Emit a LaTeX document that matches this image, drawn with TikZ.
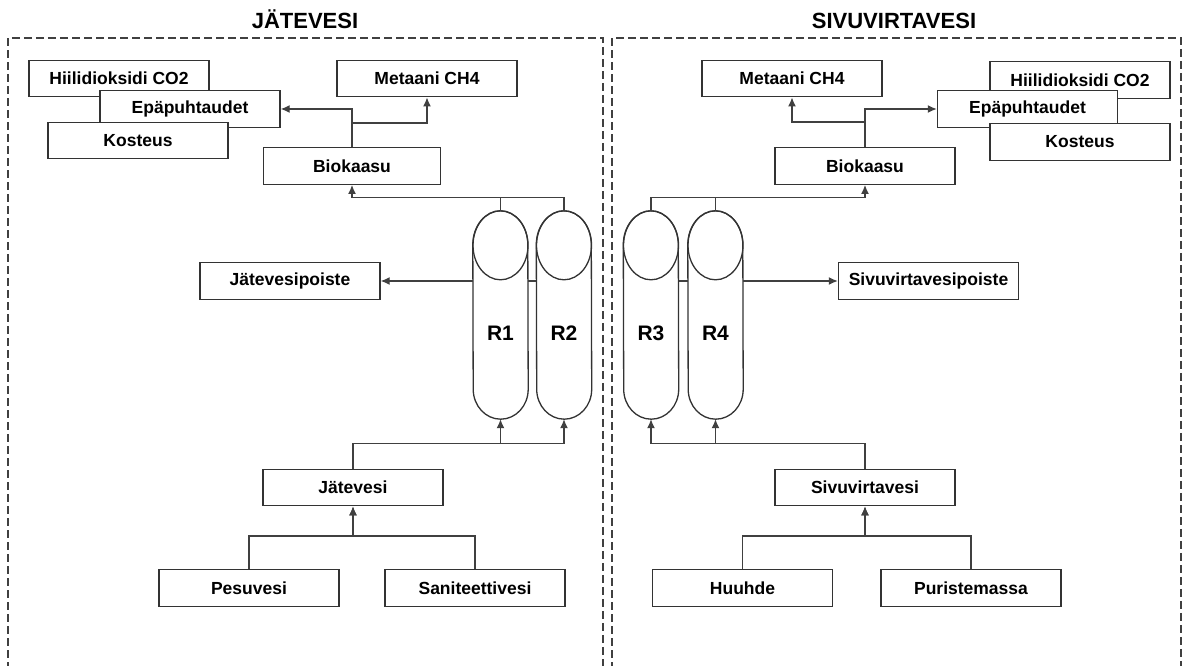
\documentclass[tikz,border=0pt]{standalone}
\usepackage{fontspec}
\setmainfont{Liberation Sans}
\usetikzlibrary{arrows.meta}
\definecolor{edge}{HTML}{333333}
\definecolor{wire}{HTML}{404040}
\begin{document}
\begin{tikzpicture}[x=1pt, y=1pt,
        >={Latex[length=9pt, width=8pt]},
        box/.style={draw=edge, line width=1.4pt, fill=white, minimum width=180pt, minimum height=36.5pt, inner sep=0pt, font=\fontsize{17.5}{20}\selectfont\bfseries},
        heading/.style={anchor=base, font=\fontsize{22}{26}\selectfont\bfseries},
        reactor/.style={minimum width=55pt, minimum height=208pt, inner sep=0pt},
        rtext/.style={font=\fontsize{21}{24}\selectfont\bfseries},
        link/.style={draw=wire, line width=1.3pt},
        frame/.style={draw=wire, line width=1.8pt, dash pattern=on 8pt off 4pt}]
        \useasboundingbox (0, 0) rectangle (1184, 666);

        \draw[frame] (8, -4) -- (8, 628) -- (603, 628) -- (603, -4);
        \draw[frame] (612, -4) -- (612, 628) -- (1181, 628) -- (1181, -4);
        \node[heading] (hJ) at (305, 637) {JÄTEVESI};
        \node[heading] (hS) at (894, 637) {SIVUVIRTAVESI};

        \node[box] (hiiliL) at (119, 587.5) {Hiilidioksidi CO2};
        \node[box] (epaL) at (190, 557) {Epäpuhtaudet};
        \node[box] (kostL) at (138, 525.5) {Kosteus};
        \node[box] (metL) at (427, 587.5) {Metaani CH4};
        \node[box, minimum width=177pt] (bioL) at (352, 500) {Biokaasu};
        \node[box] (poisteL) at (290, 385) {Jätevesipoiste};
        \node[box] (jatL) at (353, 178.5) {Jätevesi};
        \node[box] (pesL) at (249, 78) {Pesuvesi};
        \node[box] (sanL) at (475, 78) {Saniteettivesi};

        \node[box] (metR) at (792, 587.5) {Metaani CH4};
        \node[box] (hiiliR) at (1080, 586) {Hiilidioksidi CO2};
        \node[box] (epaR) at (1027.5, 557) {Epäpuhtaudet};
        \node[box] (kostR) at (1080, 524) {Kosteus};
        \node[box] (bioR) at (865, 500) {Biokaasu};
        \node[box] (poisteR) at (928.5, 385) {Sivuvirtavesipoiste};
        \node[box] (sivR) at (865, 178.5) {Sivuvirtavesi};
        \node[box] (huuR) at (742.5, 78) {Huuhde};
        \node[box] (purR) at (971, 78) {Puristemassa};

        \foreach \n/\x in {R1/500.5, R2/564, R3/651, R4/715.5} {
          \node[reactor] (\n) at (\x, 351) {};
          \draw[link, draw=edge] (\n.north west) ++(0, -34) arc[start angle=180, end angle=0, x radius=27.5, y radius=34]
            -- ([yshift=30]\n.south east) arc[start angle=0, end angle=-180, x radius=27.5, y radius=30] -- cycle;
          \draw[link, draw=edge] ([yshift=-34.5]\n.north) ellipse[x radius=27.5, y radius=34.5];
          \node[rtext] (\n txt) at ([yshift=-18]\n.center) {\n};
        }

        \coordinate (jL) at (352, 543);
        \coordinate (jR) at (865, 544);
        \draw[link, ->] (bioL.north) |- (epaL.east);
        \draw[link, ->] (jL) -| (metL.south);
        \draw[link, ->] (R2.north) -- ++(0, 13) -| (bioL.south);
        \draw[link] (R1.north) -- ++(0, 13);
        \draw[link, ->] (R1.west |- poisteL) -- (poisteL.east);
        \draw[link] (R1.east |- poisteL) -- (R2.west |- poisteL);
        \draw[link, ->] (jatL.north) -- ++(0, 25) -| (R1.south);
        \draw[link, ->] (jatL.north) -- ++(0, 25) -| (R2.south);
        \draw[link, ->] (pesL.north) -- ++(0, 33) -| (jatL.south);
        \draw[link, ->] (sanL.north) -- ++(0, 33) -| (jatL.south);

        \draw[link, ->] (bioR.north) |- (epaR.west);
        \draw[link, ->] (jR) -| (metR.south);
        \draw[link, ->] (R3.north) -- ++(0, 13) -| (bioR.south);
        \draw[link] (R4.north) -- ++(0, 13);
        \draw[link, ->] (R4.east |- poisteR) -- (poisteR.west);
        \draw[link] (R3.east |- poisteR) -- (R4.west |- poisteR);
        \draw[link, ->] (sivR.north) -- ++(0, 25) -| (R3.south);
        \draw[link, ->] (sivR.north) -- ++(0, 25) -| (R4.south);
        \draw[link, ->] (huuR.north) -- ++(0, 33) -| (sivR.south);
        \draw[link, ->] (purR.north) -- ++(0, 33) -| (sivR.south);
\end{tikzpicture}
\end{document}
